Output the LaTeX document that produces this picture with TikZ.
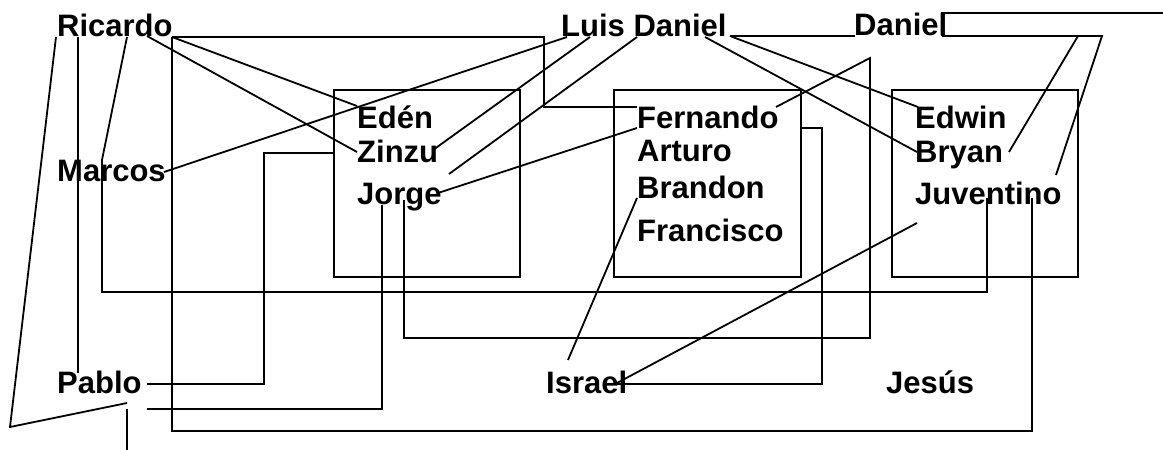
\documentclass[tikz,border=0pt]{standalone}
\usepackage{fontspec}
\setmainfont{Liberation Sans}
\begin{document}
\begin{tikzpicture}[x=1pt,y=-1pt,
  lbl/.style={anchor=base west,inner sep=0pt,font=\fontsize{31}{37}\selectfont\bfseries},
  conn/.style={line width=1.8pt,line join=miter},
  grp/.style={draw,line width=1.8pt}]
\useasboundingbox (0,0) rectangle (1163,450);
% group boxes
\draw[grp] (334,90) rectangle (520,277) coordinate (boxA);
\draw[grp] (614,90) rectangle (801,277) coordinate (boxB);
\draw[grp] (892,90) rectangle (1078,277) coordinate (boxC);
% names
\node[lbl] (ricardo) at (57,36) {Ricardo};
\node[lbl] (luisdaniel) at (561,36) {Luis Daniel};
\node[lbl] (daniel) at (854,35) {Daniel};
\node[lbl] (marcos) at (57,181) {Marcos};
\node[lbl] (eden) at (357,128) {Edén};
\node[lbl] (zinzu) at (357,162) {Zinzu};
\node[lbl] (jorge) at (357,204) {Jorge};
\node[lbl] (fernando) at (637,128) {Fernando};
\node[lbl] (arturo) at (637,161) {Arturo};
\node[lbl] (brandon) at (637,198) {Brandon};
\node[lbl] (francisco) at (637,241) {Francisco};
\node[lbl] (edwin) at (915,128) {Edwin};
\node[lbl] (bryan) at (915,162) {Bryan};
\node[lbl] (juventino) at (915,204) {Juventino};
\node[lbl] (pablo) at (57,393) {Pablo};
\node[lbl] (israel) at (546,393) {Israel};
\node[lbl] (jesus) at (886,393) {Jesús};
% connector end points
\coordinate (r1) at (56,37);  \coordinate (r2) at (78,37);
\coordinate (r3) at (127,37); \coordinate (r4) at (147,36);
\coordinate (r5) at (172,37);
\coordinate (ld1) at (567,37); \coordinate (ld2) at (590,37);
\coordinate (ld3) at (637,37); \coordinate (ld4) at (705,37);
\coordinate (ld5) at (730,36);
\coordinate (d1) at (942,36); \coordinate (d0) at (855,36);
\coordinate (p1) at (78,373); \coordinate (p2) at (127,403);
\coordinate (p3) at (147,384); \coordinate (p4) at (147,409);
\coordinate (p5) at (127,409); \coordinate (offB) at (127,450);
\coordinate (offR) at (1163,13);
\coordinate (m1) at (164,172);
\coordinate (e1) at (357,106);
\coordinate (z1) at (357,152); \coordinate (z2) at (433,150); \coordinate (z3) at (334,153);
\coordinate (j1) at (449,174); \coordinate (j2) at (438,193);
\coordinate (j3) at (404,200); \coordinate (j4) at (382,205);
\coordinate (f1) at (637,107); \coordinate (f2) at (637,128);
\coordinate (f3) at (776,107); \coordinate (f4) at (801,128);
\coordinate (b1) at (637,198);
\coordinate (i1) at (568,360); \coordinate (i2) at (617,384); \coordinate (i3) at (617,383);
\coordinate (ed1) at (918,107);
\coordinate (br1) at (917,152); \coordinate (br2) at (1009,152);
\coordinate (ju1) at (987,198); \coordinate (ju2) at (1032,198);
\coordinate (ju3) at (917,223); \coordinate (ju4) at (1056,175);
% connectors
\draw[conn] (r1) -- (10,427) -- (p2);
\draw[conn] (r2) -- (p1);
\draw[conn] (r3) -- (102,160) -- (102,292) -| (ju1);
\draw[conn] (r4) -- (z1);
\draw[conn] (r5) -- (e1);
\draw[conn] (r5) -- (544,37) -- (544,107) -- (f1);
\draw[conn] (r5) -- (172,431) -| (ju2);
\draw[conn] (m1) -- (ld1);
\draw[conn] (z2) -- (ld2);
\draw[conn] (j1) -- (ld3);
\draw[conn] (j2) -- (f2);
\draw[conn] (ld4) -- (br1);
\draw[conn] (ld5) -- (ed1);
\draw[conn] (ld5) -- (d0);
\draw[conn] (f3) -- (870,58) -- (870,338) -| (j3);
\draw[conn] (i2) -| (822,128) -- (f4);
\draw[conn] (i1) -- (b1);
\draw[conn] (i3) -- (ju3);
\draw[conn] (p3) -| (264,153) -- (z3);
\draw[conn] (p4) -| (j4);
\draw[conn] (p5) -- (offB);
\draw[conn] (d1) -- (1102,36) -- (ju4);
\draw[conn] (1078,36) -- (br2);
\draw[conn] (d1) |- (offR);
\end{tikzpicture}
\end{document}
